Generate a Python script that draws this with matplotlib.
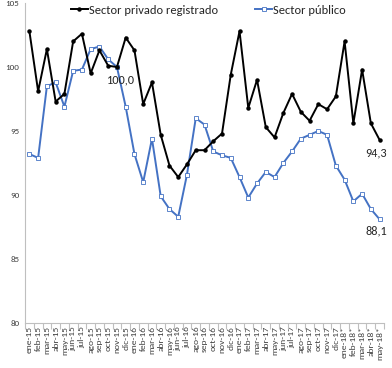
import matplotlib
matplotlib.use("Agg")
import matplotlib.pyplot as plt
from matplotlib.ticker import FixedLocator

categories = ["ene-15","feb-15","mar-15","abr-15","may-15","jun-15","jul-15","ago-15","sep-15","oct-15","nov-15","dic-15",
              "ene-16","feb-16","mar-16","abr-16","may-16","jun-16","jul-16","ago-16","sep-16","oct-16","nov-16","dic-16",
              "ene-17","feb-17","mar-17","abr-17","may-17","jun-17","jul-17","ago-17","sep-17","oct-17","nov-17","dic-17",
              "ene-18*","feb-18*","mar-18*","abr-18*","may-18*"]
privado = [102.8, 98.1, 101.4, 97.3, 97.9, 102.0, 102.6, 99.5, 101.3, 100.1, 100.0, 102.3,
           101.3, 97.1, 98.8, 94.7, 92.3, 91.4, 92.4, 93.5, 93.5, 94.2, 94.8, 99.4,
           102.8, 96.8, 99.0, 95.3, 94.5, 96.4, 97.9, 96.5, 95.8, 97.1, 96.7, 97.7,
           102.0, 95.6, 99.8, 95.6, 94.3]
publico = [93.2, 92.9, 98.5, 98.8, 96.9, 99.7, 99.8, 101.4, 101.6, 100.6, 100.0, 96.9,
           93.2, 91.0, 94.4, 89.9, 88.9, 88.3, 91.6, 96.0, 95.5, 93.4, 93.1, 92.9,
           91.4, 89.8, 90.9, 91.8, 91.4, 92.5, 93.4, 94.4, 94.7, 95.0, 94.7, 92.3,
           91.2, 89.5, 90.1, 88.9, 88.1]
yticks = [80, 85, 90, 95, 100, 105]

plt.rcParams['font.family'] = ['Carlito', 'Lato', 'DejaVu Sans']
fig = plt.figure(figsize=(3.92, 3.68), dpi=100)
ax = fig.add_axes([25/392, 1-323/368, 359/392, 320/368])
x = list(range(len(categories)))
blue = '#4472C4'
ax.plot(x, privado, color='black', lw=1.4, marker='o', ms=2.2, mfc='black', mec='black',
        label='Sector privado registrado', zorder=3)
ax.plot(x, publico, color=blue, lw=1.4, marker='s', ms=2.6, mfc='white', mec=blue, mew=0.6,
        label='Sector público', zorder=2)

ax.set_xlim(-0.5, len(categories)-0.5)
ax.set_ylim(80, 105)
ax.set_yticks(yticks)
ax.set_yticklabels([str(v) for v in yticks], fontsize=6.5, color='#404040')
ax.tick_params(axis='y', length=0, pad=4)
ax.set_xticks(x)
ax.set_xticklabels(categories, rotation=90, fontsize=6.8, color='#404040')
ax.tick_params(axis='x', which='major', length=0, pad=2)
ax.xaxis.set_minor_locator(FixedLocator([i-0.5 for i in range(len(categories)+1)]))
ax.tick_params(axis='x', which='minor', length=4, color='#BFBFBF', width=0.8)
for s in ['top', 'right']:
    ax.spines[s].set_visible(False)
ax.spines['left'].set_color('#BFBFBF')
ax.spines['bottom'].set_color('#BFBFBF')
ax.spines['left'].set_linewidth(0.8)
ax.spines['bottom'].set_linewidth(0.8)

ax.annotate('100,0', (10, 100.0), xytext=(-7, -12), textcoords='offset points', fontsize=8.8, color='#262626')
ax.annotate('94,3', (40, privado[-1]), xytext=(-10, -12), textcoords='offset points', fontsize=8.8, color='#262626')
ax.annotate('88,1', (40, publico[-1]), xytext=(-10, -11), textcoords='offset points', fontsize=8.8, color='#262626')

leg = ax.legend(loc='upper center', bbox_to_anchor=(0.511, 1.01), ncol=2, frameon=False, fontsize=9,
                handlelength=1.3, handletextpad=0.1, columnspacing=3.0, borderaxespad=0)
for t in leg.get_texts():
    t.set_color('#262626')

fig.savefig('out.png', dpi=100)
